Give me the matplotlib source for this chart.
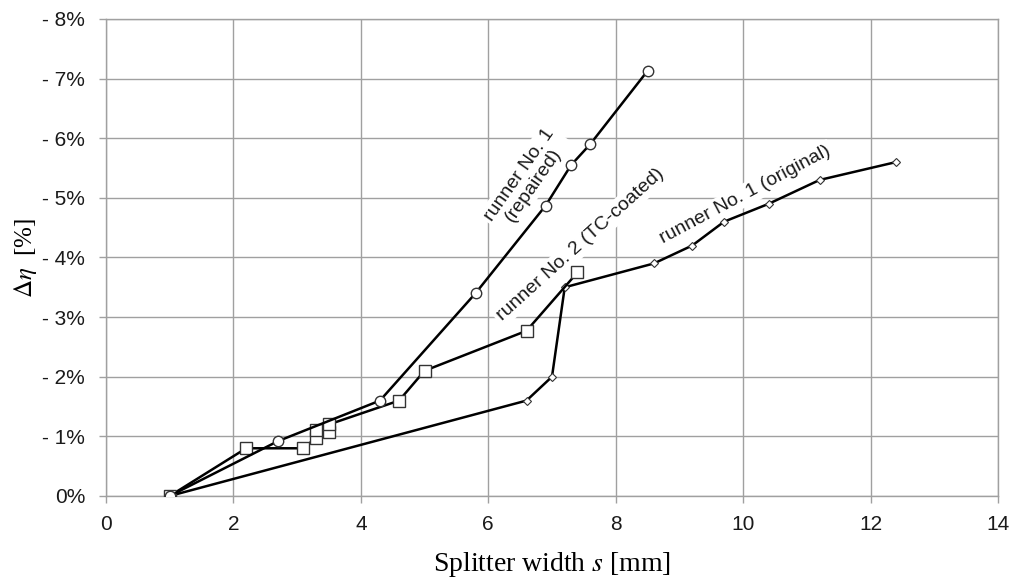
import matplotlib.pyplot as plt
from matplotlib.ticker import FuncFormatter, MultipleLocator

plt.rcParams['mathtext.fontset'] = 'stix'
plt.rcParams['font.family'] = 'Liberation Sans'
plt.rcParams['xtick.major.pad'] = 9
plt.rcParams['ytick.major.pad'] = 10

# runner No. 1 (repaired) - circles
s_rep = [1.0, 2.7, 4.3, 5.8, 6.9, 7.3, 7.6, 8.5]
d_rep = [0.0, -0.92, -1.6, -3.4, -4.87, -5.55, -5.9, -7.13]

# runner No. 2 (TC-coated) - squares
s_tc = [1.0, 2.2, 3.1, 3.3, 3.3, 3.5, 3.5, 4.6, 5.0, 6.6, 7.4]
d_tc = [0.0, -0.8, -0.8, -0.98, -1.1, -1.08, -1.2, -1.6, -2.1, -2.77, -3.75]

# runner No. 1 (original) - diamonds
s_org = [1.0, 6.6, 7.0, 7.2, 8.6, 9.2, 9.7, 10.4, 11.2, 12.4]
d_org = [0.0, -1.6, -2.0, -3.5, -3.9, -4.2, -4.6, -4.9, -5.3, -5.6]

fig = plt.figure(figsize=(10.16, 5.82), dpi=100)
ax = fig.add_axes([0.1043, 0.1478, 0.878, 0.8196])

grey = '#a0a0a0'
lw = 1.8
ax.plot(s_org, d_org, color='black', lw=lw, marker='D', ms=4.5,
        mfc='white', mec='#333333', mew=0.8, zorder=3)
ax.plot(s_tc, d_tc, color='black', lw=lw, marker='s', ms=8,
        mfc='white', mec='#333333', mew=1.0, zorder=4)
ax.plot(s_rep, d_rep, color='black', lw=lw, marker='o', ms=7.5,
        mfc='white', mec='#333333', mew=1.0, zorder=5)

ax.set_xlim(0, 14)
ax.set_ylim(0, -8)
ax.xaxis.set_major_locator(MultipleLocator(2))
ax.yaxis.set_major_locator(MultipleLocator(1))
ax.yaxis.set_major_formatter(FuncFormatter(
    lambda v, p: '0%' if abs(v) < 1e-9 else '- %d%%' % round(abs(v))))

ax.grid(True, color=grey, lw=1.0)
ax.set_axisbelow(True)
for sp in ax.spines.values():
    sp.set_color(grey)
    sp.set_linewidth(1.0)
ax.tick_params(direction='out', length=5, color=grey, width=1.0,
               labelsize=15, labelcolor='#1a1a1a')

ax.set_xlabel('Splitter width $s$ [mm]', family='Liberation Serif',
              fontsize=20, labelpad=11)
ax.set_ylabel(r'$\Delta\eta$  [%]', family='Liberation Serif',
              fontsize=18, labelpad=2)

box = dict(facecolor='white', edgecolor='none', pad=2)
ax.text(6.6, -5.3, 'runner No. 1\n(repaired)', rotation=55,
        ha='center', va='center', fontsize=14,
        color='#1a1a1a', bbox=box, linespacing=1.0, zorder=2,
        rotation_mode='anchor')
ax.text(7.44, -4.21, 'runner No. 2 (TC-coated)', rotation=42,
        ha='center', va='center', fontsize=14,
        color='#1a1a1a', bbox=box, zorder=2, rotation_mode='anchor')
ax.text(10.03, -5.05, 'runner No. 1 (original)', rotation=28,
        ha='center', va='center', fontsize=14,
        color='#1a1a1a', bbox=box, zorder=2, rotation_mode='anchor')

fig.savefig('out.png', dpi=100)
